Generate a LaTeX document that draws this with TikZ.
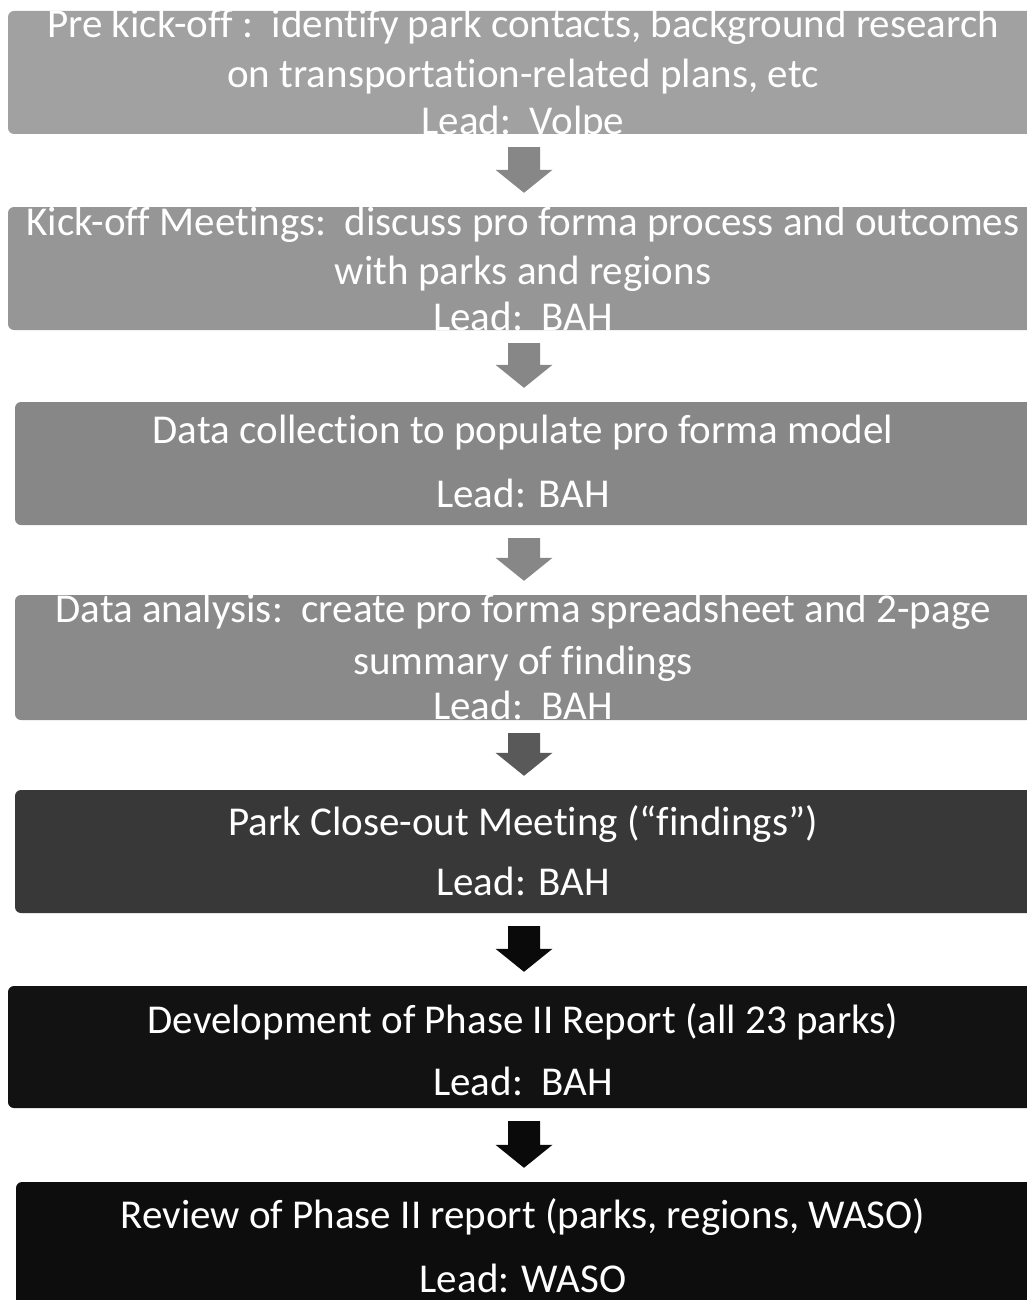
\documentclass[tikz,border=0pt]{standalone}
\usepackage{fontspec}
\setmainfont{Carlito}[Ligatures=CommonOff]
\usetikzlibrary{calc}

\definecolor{boxA}{gray}{0.63}
\definecolor{boxB}{gray}{0.59}
\definecolor{boxC}{gray}{0.53}
\definecolor{boxD}{gray}{0.54}
\definecolor{boxE}{gray}{0.22}
\definecolor{boxF}{gray}{0.07}
\definecolor{boxG}{gray}{0.05}
\definecolor{arrowlight}{gray}{0.53}
\definecolor{arrowmid}{gray}{0.35}
\definecolor{arrowdark}{gray}{0.04}

% block arrow between two stacked boxes, along the vertical line through (ax)
\newcommand{\flowarrow}[3]{%
  \fill[#3] let \p1=(#1.south -| ax), \p2=(#2.north -| ax) in
    (\x1-16pt,\y1-13pt) -- (\x1+16pt,\y1-13pt) -- (\x1+16pt,\y2+37pt)
    -- (\x1+28.5pt,\y2+37pt) -- (\x1,\y2+14pt) -- (\x1-28.5pt,\y2+37pt)
    -- (\x1-16pt,\y2+37pt) -- cycle;}

\begin{document}
\begin{tikzpicture}[x=1pt,y=1pt,
  stagebox/.style={rectangle, rounded corners=6pt, inner sep=0pt, draw=none},
  stageline/.style={anchor=base, text=white, inner sep=0pt, font=\fontsize{41}{44}\selectfont}]
\useasboundingbox (0,0) rectangle (1027,-1300);
\begin{scope}
\clip (0,0) rectangle (1027,-1300);

% stage boxes (the right edge runs off the page)
\node[stagebox, fill=boxA, minimum width=1032, minimum height=123] (b1) at (524,-72.5) {};
\node[stagebox, fill=boxB, minimum width=1032, minimum height=123] (b2) at (524,-268.5) {};
\node[stagebox, fill=boxC, minimum width=1025, minimum height=123] (b3) at (527.5,-463.5) {};
\node[stagebox, fill=boxD, minimum width=1025, minimum height=125] (b4) at (527.5,-657.5) {};
\node[stagebox, fill=boxE, minimum width=1025, minimum height=123] (b5) at (527.5,-851.5) {};
\node[stagebox, fill=boxF, minimum width=1032, minimum height=122] (b6) at (524,-1047) {};
\node[stagebox, fill=boxG, minimum width=1024, minimum height=125] (b7) at (528,-1244.5) {};

\coordinate (ax) at (524,0);

% text of each stage
\node[stageline] (t1a) at (523,-38) {Pre kick-off :\ \ identify park contacts, background research};
\node[stageline] (t1b) at (523,-88) {on transportation-related plans, etc};
\node[stageline] (t1c) at (523,-135) {Lead:\ \ Volpe};

\node[stageline] (t2a) at (523,-235) {Kick-off Meetings:\ \ discuss pro forma process and outcomes};
\node[stageline] (t2b) at (523,-284) {with parks and regions};
\node[stageline] (t2c) at (523,-330) {Lead:\ \ BAH};

\node[stageline] (t3a) at (523,-443) {Data collection to populate pro forma model};
\node[stageline] (t3b) at (523,-507) {Lead: BAH};

\node[stageline] (t4a) at (523,-622) {Data analysis:\ \ create pro forma spreadsheet and 2-page};
\node[stageline] (t4b) at (523,-674) {summary of findings};
\node[stageline] (t4c) at (523,-719) {Lead:\ \ BAH};

\node[stageline] (t5a) at (523,-835) {Park Close-out Meeting (“findings”)};
\node[stageline] (t5b) at (523,-895) {Lead: BAH};

\node[stageline] (t6a) at (523,-1033) {Development of Phase II Report (all 23 parks)};
\node[stageline] (t6b) at (523,-1095) {Lead:\ \ BAH};

\node[stageline] (t7a) at (523,-1228) {Review of Phase II report (parks, regions, WASO)};
\node[stageline] (t7b) at (523,-1292) {Lead: WASO};

% arrows between stages
\flowarrow{b1}{b2}{arrowlight}
\flowarrow{b2}{b3}{arrowlight}
\flowarrow{b3}{b4}{arrowlight}
\flowarrow{b4}{b5}{arrowmid}
\flowarrow{b5}{b6}{arrowdark}
\flowarrow{b6}{b7}{arrowdark}
\end{scope}
\end{tikzpicture}
\end{document}
